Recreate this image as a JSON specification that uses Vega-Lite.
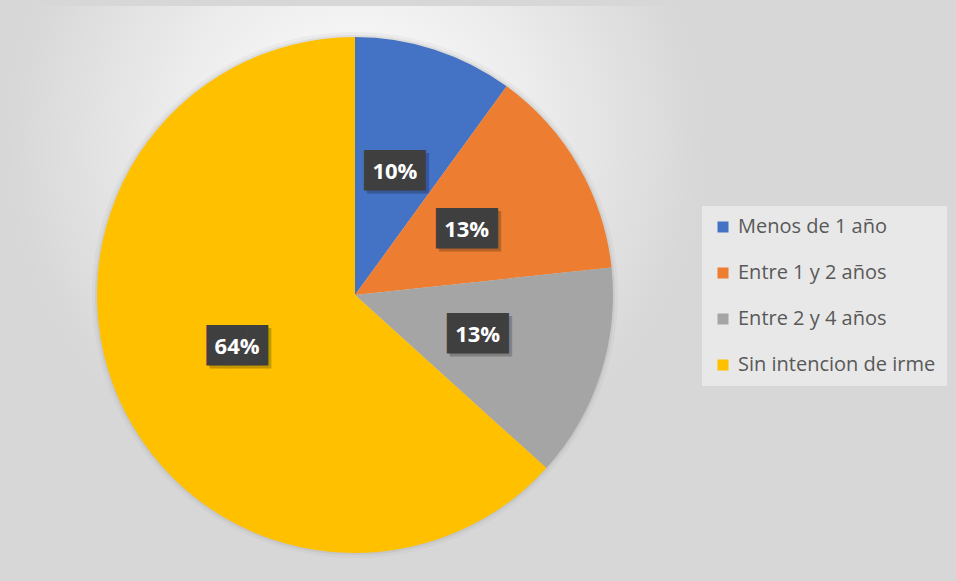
{
  "$schema": "https://vega.github.io/schema/vega-lite/v6.json",
  "width": 698,
  "height": 578,
  "autosize": {"type": "none"},
  "padding": {"left": 6, "top": 6, "right": 252, "bottom": 0},
  "background": "#d7d7d7",
  "view": {
    "stroke": null,
    "fill": {
      "gradient": "radial",
      "x1": 0.5, "y1": 0.28, "r1": 0.0,
      "x2": 0.5, "y2": 0.28, "r2": 0.5,
      "stops": [
        {"offset": 0, "color": "#ffffff"},
        {"offset": 0.5, "color": "#ededed"},
        {"offset": 1, "color": "#d7d7d7"}
      ]
    }
  },
  "data": {
    "values": [
      {"categoria": "Menos de 1 año", "valor": 10.0, "etiqueta": "10%", "orden": 1},
      {"categoria": "Entre 1 y 2 años", "valor": 13.3, "etiqueta": "13%", "orden": 2},
      {"categoria": "Entre 2 y 4 años", "valor": 13.4, "etiqueta": "13%", "orden": 3},
      {"categoria": "Sin intencion de irme", "valor": 63.3, "etiqueta": "64%", "orden": 4}
    ]
  },
  "encoding": {
    "theta": {"field": "valor", "type": "quantitative", "stack": true},
    "order": {"field": "orden", "type": "ordinal"}
  },
  "layer": [
    {
      "mark": {"type": "arc", "radius": 263, "fill": "#8a8a8a", "opacity": 0.08, "stroke": null}
    },
    {
      "mark": {"type": "arc", "radius": 260, "fill": "#7a7a7a", "opacity": 0.12, "stroke": null}
    },
    {
      "mark": {"type": "arc", "radius": 258, "stroke": null},
      "encoding": {
        "color": {
          "field": "categoria",
          "type": "nominal",
          "sort": ["Menos de 1 año", "Entre 1 y 2 años", "Entre 2 y 4 años", "Sin intencion de irme"],
          "scale": {
            "domain": ["Menos de 1 año", "Entre 1 y 2 años", "Entre 2 y 4 años", "Sin intencion de irme"],
            "range": ["#4472c4", "#ed7d31", "#a5a5a5", "#ffc000"]
          },
          "legend": {
            "title": null,
            "orient": "none",
            "legendX": 696,
            "legendY": 200,
            "direction": "vertical",
            "symbolType": "square",
            "symbolSize": 121,
            "symbolStrokeWidth": 0,
            "labelFont": "Open Sans",
            "labelFontSize": 20,
            "labelColor": "#595959",
            "labelOffset": 5,
            "rowPadding": 26,
            "padding": 11,
            "fillColor": "#e8e8e8",
            "labelLimit": 300
          }
        }
      }
    },
    {
      "mark": {"type": "text", "radius": 129, "text": "███", "font": "DejaVu Sans Mono", "fontSize": 34, "fill": "#000000", "opacity": 0.22, "dx": 3, "dy": 3, "baseline": "middle", "align": "center"}
    },
    {
      "mark": {"type": "text", "radius": 129, "text": "███", "font": "DejaVu Sans Mono", "fontSize": 34, "fill": "#3f3f3f", "baseline": "middle", "align": "center"}
    },
    {
      "mark": {"type": "text", "radius": 129, "font": "Open Sans", "fontSize": 22, "fontWeight": "bold", "fill": "#ffffff", "baseline": "middle", "align": "center"},
      "encoding": {"text": {"field": "etiqueta", "type": "nominal"}}
    }
  ]
}
